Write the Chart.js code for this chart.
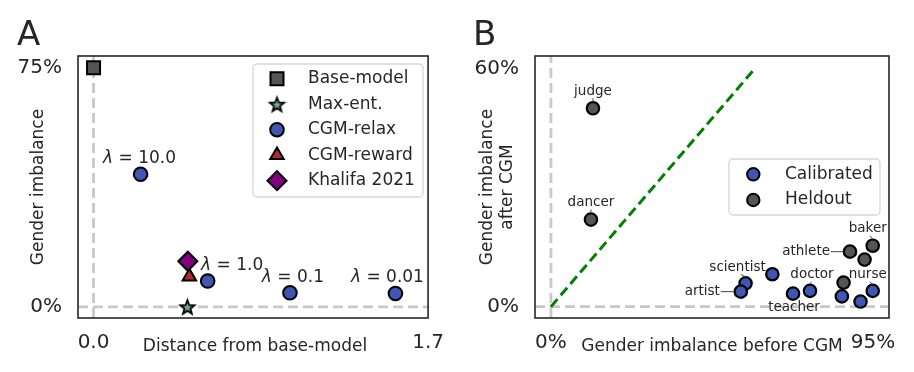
<!DOCTYPE html>
<html>
<head>
<meta charset="utf-8">
<script src="https://cdn.jsdelivr.net/npm/chart.js@4.4.0/dist/chart.umd.min.js"></script>
<style>
  html, body { margin: 0; padding: 0; background: #fff; }
  #wrap { position: relative; width: 914px; height: 372px; }
  canvas { position: absolute; top: 0; }
  #chartA { left: 0; }
  #chartB { left: 457px; }
</style>
</head>
<body>
<div id="wrap">
  <canvas id="chartA" width="457" height="372"></canvas>
  <canvas id="chartB" width="457" height="372"></canvas>
</div>
<script>
// ---- panel A data ----
const baseModel = [{x: 0, y: 75}];
const maxEnt = [{x: 0.477, y: 0}];
const relaxX = [0.239, 0.58, 0.998, 1.534];
const relaxY = [41.6, 8.1, 4.4, 4.2];
const lambdas = ['10.0', '1.0', '0.1', '0.01'];
const reward = [{x: 0.487, y: 9.5}];
const khalifa = [{x: 0.479, y: 14.3}];
const xTicksA = [0, 1.7];
const yTicksA = [0, 75];
const xRangeA = [-0.079, 1.7];
const yRangeA = [-3.5, 78.7];

// ---- panel B data ----
const calibX = [57.4, 56.0, 65.3, 71.4, 76.4, 85.8, 91.3, 94.9];
const calibY = [5.9, 3.8, 8.2, 3.3, 4.0, 2.6, 1.3, 4.0];
const calibNames = ['scientist', 'artist', '', 'teacher', 'doctor', '', '', 'nurse'];
const heldX = [12.4, 11.8, 94.9, 88.2, 92.5, 86.3];
const heldY = [50.1, 22.0, 15.4, 13.9, 11.9, 6.1];
const heldNames = ['judge', 'dancer', 'baker', 'athlete', '', ''];
const diagonal = [0, 60];
const xTicksB = [0, 95];
const yTicksB = [0, 60];
const xRangeB = [-4.7, 99.7];
const yRangeB = [-2.85, 63.3];

const TEXT = '#262626';
const FONT = "'DejaVu Sans', sans-serif";
const BLUE = '#3f56b5';
const DARK = '#555555';
const REF = '#c8c8c8';

Chart.defaults.font.family = FONT;
Chart.defaults.color = TEXT;

// filled five point star used as a point style
function makeStar(r, fill) {
  const c = document.createElement('canvas');
  const s = Math.ceil(r * 2 + 4);
  c.width = s; c.height = s;
  const g = c.getContext('2d');
  g.beginPath();
  for (let i = 0; i < 10; i++) {
    const rad = i % 2 === 0 ? r : r * 0.42;
    const a = -Math.PI / 2 + i * Math.PI / 5;
    const px = s / 2 + rad * Math.cos(a), py = s / 2 + rad * Math.sin(a) + 0.8;
    if (i === 0) g.moveTo(px, py); else g.lineTo(px, py);
  }
  g.closePath();
  g.fillStyle = fill; g.fill();
  g.lineWidth = 1.8; g.strokeStyle = '#000'; g.stroke();
  return c;
}
const star = makeStar(7.5, '#74a889');

const xy = (xs, ys) => xs.map((v, i) => ({x: v, y: ys[i]}));

function tickScales(xr, yr, xt, yt, xfmt, yfmt) {
  return {
    x: {
      type: 'linear', min: xr[0], max: xr[1],
      afterBuildTicks: s => { s.ticks = xt.map(v => ({value: v})); },
      afterFit: s => { s.height = 54; },
      ticks: {callback: xfmt, font: {size: 20}, color: TEXT, padding: 13, maxRotation: 0, autoSkip: false},
      grid: {display: false, drawTicks: false},
      border: {display: false}
    },
    y: {
      type: 'linear', min: yr[0], max: yr[1],
      afterBuildTicks: s => { s.ticks = yt.map(v => ({value: v})); },
      afterFit: s => { s.width = 78; },
      ticks: {callback: yfmt, font: {size: 20}, color: TEXT, padding: 16, autoSkip: false},
      grid: {display: false, drawTicks: false},
      border: {display: false}
    }
  };
}

function drawFrame(chart) {
  const {ctx, chartArea: a} = chart;
  ctx.save();
  ctx.strokeStyle = TEXT;
  ctx.lineWidth = 1.6;
  ctx.strokeRect(a.left, a.top, a.right - a.left, a.bottom - a.top);
  ctx.restore();
}

function label(ctx, str, x, y, size, align, rot) {
  ctx.save();
  ctx.fillStyle = TEXT;
  ctx.font = size + 'px ' + FONT;
  ctx.textAlign = align || 'center';
  ctx.textBaseline = 'middle';
  ctx.translate(x, y);
  if (rot) ctx.rotate(rot);
  ctx.fillText(str, 0, 0);
  ctx.restore();
}

function legendBox(ctx, x, y, w, h) {
  ctx.save();
  ctx.beginPath();
  ctx.roundRect(x, y, w, h, 4);
  ctx.fillStyle = 'rgba(255,255,255,0.85)';
  ctx.fill();
  ctx.strokeStyle = '#d6d6d6';
  ctx.lineWidth = 1.3;
  ctx.stroke();
  ctx.restore();
}

function legendMarker(ctx, style, radius, fill, x, y) {
  ctx.save();
  ctx.fillStyle = fill;
  ctx.strokeStyle = '#000';
  ctx.lineWidth = 2;
  Chart.helpers.drawPoint(ctx, {pointStyle: style, radius: radius, rotation: 0, borderWidth: 2}, x, y);
  ctx.restore();
}

function refLine(data, color, width, dash) {
  return {
    data: data, showLine: true, borderColor: color, borderWidth: width,
    borderDash: dash, pointRadius: 0, pointHoverRadius: 0, fill: false
  };
}

// ---------------- panel A ----------------
const lamOffX = [-1, 24.5, 3, -8];
const lamOffY = [-16, -15, -15, -16];

const panelA = {
  id: 'panelA',
  afterDatasetsDraw(chart) {
    const ctx = chart.ctx;
    const meta = chart.getDatasetMeta(0);
    meta.data.forEach((p, i) => {
      const rest = ' = ' + lambdas[i];
      ctx.save();
      ctx.font = 'italic 17px ' + FONT;
      const w1 = ctx.measureText('λ').width;
      ctx.font = '17px ' + FONT;
      const w2 = ctx.measureText(rest).width;
      const x0 = p.x + lamOffX[i] - (w1 + w2) / 2;
      const y0 = p.y + lamOffY[i];
      ctx.fillStyle = TEXT;
      ctx.textBaseline = 'middle';
      ctx.textAlign = 'left';
      ctx.font = 'italic 17px ' + FONT;
      ctx.fillText('λ', x0, y0);
      ctx.font = '17px ' + FONT;
      ctx.fillText(rest, x0 + w1, y0);
      ctx.restore();
    });
  },
  afterDraw(chart) {
    const ctx = chart.ctx;
    drawFrame(chart);
    label(ctx, 'Distance from base-model', 255, 347, 17);
    label(ctx, 'Gender imbalance', 38.5, 187, 17, 'center', -Math.PI / 2);
    ctx.save();
    ctx.fillStyle = TEXT;
    ctx.font = '34px ' + FONT;
    ctx.textBaseline = 'alphabetic';
    ctx.fillText('A', 17, 45);
    ctx.restore();

    legendBox(ctx, 253, 64, 170, 133);
    const rows = [
      ['Base-model', 'rect', 9.2, DARK],
      ['Max-ent.', star, 8, null],
      ['CGM-relax', 'circle', 6.8, BLUE],
      ['CGM-reward', 'triangle', 7.8, '#b22a2a'],
      ['Khalifa 2021', 'rectRot', 9.5, '#800080']
    ];
    rows.forEach((r, i) => {
      const y = 78.7 + i * 25.5;
      legendMarker(ctx, r[1], r[2], r[3], 277, y);
      label(ctx, r[0], 308, y, 17, 'left');
    });
  }
};

new Chart(document.getElementById('chartA'), {
  type: 'scatter',
  data: {
    datasets: [
      {label: 'CGM-relax', data: xy(relaxX, relaxY), pointStyle: 'circle', pointRadius: 6.8,
        backgroundColor: BLUE, borderColor: '#000', borderWidth: 2},
      {label: 'Khalifa 2021', data: khalifa, pointStyle: 'rectRot', pointRadius: 9.5,
        backgroundColor: '#800080', borderColor: '#000', borderWidth: 2},
      {label: 'CGM-reward', data: reward, pointStyle: 'triangle', pointRadius: 7.8,
        backgroundColor: '#b22a2a', borderColor: '#000', borderWidth: 2},
      {label: 'Max-ent.', data: maxEnt, pointStyle: star, pointRadius: 8},
      {label: 'Base-model', data: baseModel, pointStyle: 'rect', pointRadius: 9.2,
        backgroundColor: DARK, borderColor: '#000', borderWidth: 2},
      refLine([{x: 0, y: yRangeA[0]}, {x: 0, y: yRangeA[1]}], REF, 2.8, [10, 5]),
      refLine([{x: xRangeA[0], y: 0}, {x: xRangeA[1], y: 0}], REF, 2.8, [10, 5])
    ]
  },
  options: {
    responsive: false,
    animation: false,
    layout: {padding: {left: 0, right: 25, top: 56, bottom: 0}},
    plugins: {legend: {display: false}, tooltip: {enabled: false}},
    scales: tickScales(xRangeA, yRangeA, xTicksA, yTicksA,
      v => Number(v).toFixed(1), v => v + '%')
  },
  plugins: [panelA]
});

// ---------------- panel B ----------------
const labelPos = {
  scientist: {dx: -8, dy: -16},
  artist: {dx: -21, dy: 0, align: 'right', lead: 'h'},
  teacher: {dx: 1, dy: 14},
  doctor: {dx: 2, dy: -16},
  nurse: {dx: -5, dy: -16},
  judge: {dx: 0, dy: -17},
  dancer: {dx: 0, dy: -17},
  baker: {dx: -5, dy: -17},
  athlete: {dx: -20, dy: 0, align: 'right', lead: 'h'}
};

function nameLabels(chart, idx, names) {
  const ctx = chart.ctx;
  chart.getDatasetMeta(idx).data.forEach((p, i) => {
    const n = names[i];
    if (!n) return;
    const o = labelPos[n];
    ctx.save();
    ctx.strokeStyle = '#444';
    ctx.lineWidth = 1;
    ctx.beginPath();
    if (o.lead === 'h') {
      ctx.moveTo(p.x + o.dx + 1, p.y);
      ctx.lineTo(p.x - 6.5, p.y);
    } else {
      const ey = o.dy < 0 ? p.y + o.dy + 7 : p.y + o.dy - 7;
      const py = o.dy < 0 ? p.y - 6.5 : p.y + 6.5;
      ctx.moveTo(p.x + o.dx * 0.6, ey);
      ctx.lineTo(p.x, py);
    }
    ctx.stroke();
    ctx.restore();
    label(ctx, n, p.x + o.dx, p.y + o.dy, 13.5, o.align || 'center');
  });
}

const panelB = {
  id: 'panelB',
  afterDatasetsDraw(chart) {
    nameLabels(chart, 0, calibNames);
    nameLabels(chart, 1, heldNames);
  },
  afterDraw(chart) {
    const ctx = chart.ctx;
    drawFrame(chart);
    label(ctx, 'Gender imbalance before CGM', 255, 347, 17);
    label(ctx, 'Gender imbalance', 31, 187, 17, 'center', -Math.PI / 2);
    label(ctx, 'after CGM', 51, 187, 17, 'center', -Math.PI / 2);
    ctx.save();
    ctx.fillStyle = TEXT;
    ctx.font = '34px ' + FONT;
    ctx.textBaseline = 'alphabetic';
    ctx.fillText('B', 16, 45);
    ctx.restore();

    legendBox(ctx, 272, 159, 151, 56);
    legendMarker(ctx, 'circle', 6.2, BLUE, 296.3, 174.3);
    label(ctx, 'Calibrated', 328, 174.3, 17, 'left');
    legendMarker(ctx, 'circle', 6.2, DARK, 296.3, 200);
    label(ctx, 'Heldout', 328, 200, 17, 'left');
  }
};

new Chart(document.getElementById('chartB'), {
  type: 'scatter',
  data: {
    datasets: [
      {label: 'Calibrated', data: xy(calibX, calibY), pointRadius: 6.2,
        backgroundColor: BLUE, borderColor: '#000', borderWidth: 2.2},
      {label: 'Heldout', data: xy(heldX, heldY), pointRadius: 6.2,
        backgroundColor: DARK, borderColor: '#000', borderWidth: 2.2},
      refLine([{x: diagonal[0], y: diagonal[0]}, {x: diagonal[1], y: diagonal[1]}], '#008000', 3, [10, 5]),
      refLine([{x: 0, y: yRangeB[0]}, {x: 0, y: yRangeB[1]}], REF, 2.8, [10, 5]),
      refLine([{x: xRangeB[0], y: 0}, {x: xRangeB[1], y: 0}], REF, 2.8, [10, 5])
    ]
  },
  options: {
    responsive: false,
    animation: false,
    layout: {padding: {left: 0, right: 25, top: 56, bottom: 0}},
    plugins: {legend: {display: false}, tooltip: {enabled: false}},
    scales: tickScales(xRangeB, yRangeB, xTicksB, yTicksB, v => v + '%', v => v + '%')
  },
  plugins: [panelB]
});
</script>
</body>
</html>
